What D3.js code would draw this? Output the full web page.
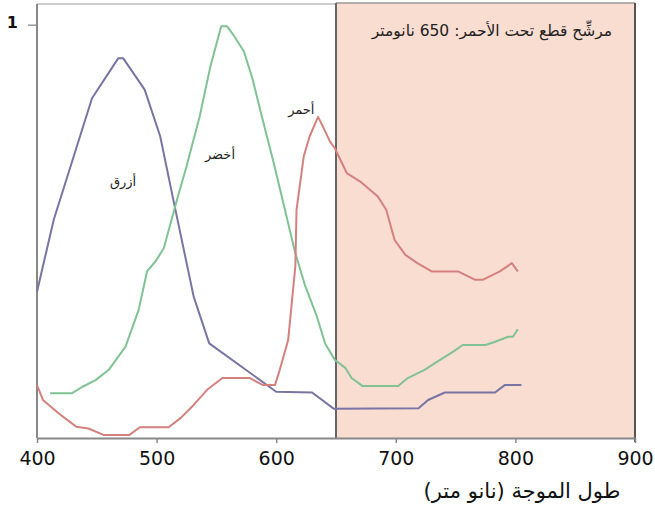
<!DOCTYPE html>
<html>
<head>
<meta charset="utf-8">
<script src="https://cdn.jsdelivr.net/npm/d3@7"></script>
<style>
  body { margin: 0; background: #fff; }
  svg { display: block; }
</style>
</head>
<body>
<svg id="chart" width="655" height="511"></svg>
<script>
// wavelengths (nm) and relative response for each channel
const blueNm  = [400, 414, 446, 468, 472, 490, 503, 514, 531, 544, 600, 630, 648, 719, 727, 741, 783, 791, 805];
const blueVal = [0.354, 0.528, 0.822, 0.919, 0.919, 0.843, 0.730, 0.576, 0.342, 0.229, 0.112, 0.110, 0.071, 0.072, 0.092, 0.110, 0.110, 0.128, 0.128];

const greenNm  = [411, 429, 438, 449, 460, 474, 485, 492, 499, 506, 517, 525, 536, 545, 554, 559, 564, 573, 580, 588, 598, 606, 616, 624, 634, 641, 649, 658, 663, 672, 702, 710, 724, 737, 748, 756, 775, 783, 794, 798, 802];
const greenVal = [0.108, 0.108, 0.124, 0.140, 0.165, 0.221, 0.310, 0.403, 0.427, 0.459, 0.576, 0.657, 0.778, 0.899, 0.996, 0.996, 0.976, 0.935, 0.871, 0.778, 0.665, 0.568, 0.447, 0.370, 0.294, 0.228, 0.189, 0.169, 0.145, 0.126, 0.126, 0.145, 0.165, 0.189, 0.209, 0.225, 0.225, 0.233, 0.245, 0.245, 0.263];

const redNm  = [400, 405, 418, 433, 443, 456, 477, 486, 510, 520, 531, 542, 555, 578, 589, 599, 603, 610, 616, 617, 623, 628, 635, 639, 645, 649, 659, 670, 685, 692, 699, 708, 718, 730, 752, 766, 773, 787, 797, 802];
const redVal = [0.128, 0.092, 0.060, 0.027, 0.023, 0.007, 0.007, 0.026, 0.026, 0.048, 0.080, 0.116, 0.145, 0.145, 0.128, 0.128, 0.165, 0.237, 0.415, 0.552, 0.681, 0.730, 0.777, 0.754, 0.717, 0.701, 0.641, 0.621, 0.584, 0.552, 0.479, 0.443, 0.423, 0.403, 0.403, 0.383, 0.383, 0.403, 0.423, 0.403];

const xTicks = [400, 500, 600, 700, 800, 900];
const yTicks = [1];
const cutoffNm = 650;

const curveLabels = [
  {text: 'أزرق', nm: 472, v: 0.61},
  {text: 'أخضر', nm: 553, v: 0.676},
  {text: 'أحمر', nm: 621, v: 0.784}
];
const filterLabel = 'مرشِّح قطع تحت الأحمر: 650 نانومتر';
const xTitle = 'طول الموجة (نانو متر)';

const svg = d3.select('#chart');
const mLeft = 37, mRight = 635, mTop = 4, mBottom = 438;

const x = d3.scaleLinear().domain([400, 900]).range([mLeft, mRight]);
const y = d3.scaleLinear().domain([0, 1.05]).range([mBottom, mTop]);

// shaded IR-cut region
svg.append('rect')
  .attr('x', x(cutoffNm)).attr('y', mTop - 1)
  .attr('width', x(900) - x(cutoffNm)).attr('height', mBottom - mTop + 1)
  .attr('fill', '#f9ddd1');

// frame
svg.append('line').attr('x1', mLeft).attr('x2', x(cutoffNm)).attr('y1', mTop).attr('y2', mTop)
  .attr('stroke', '#bbb').attr('stroke-width', 1.5);
svg.append('line').attr('x1', x(cutoffNm)).attr('x2', mRight).attr('y1', mTop - 1).attr('y2', mTop - 1)
  .attr('stroke', '#999').attr('stroke-width', 1.5);
svg.append('line').attr('x1', x(cutoffNm)).attr('x2', x(cutoffNm)).attr('y1', mTop - 1).attr('y2', mBottom)
  .attr('stroke', '#666').attr('stroke-width', 2);
svg.append('line').attr('x1', mRight).attr('x2', mRight).attr('y1', mTop - 1).attr('y2', mBottom + 4)
  .attr('stroke', '#555').attr('stroke-width', 2);

// axes
const xAxis = d3.axisBottom(x).tickValues(xTicks).tickSize(5).tickSizeOuter(0).tickPadding(9);
const gx = svg.append('g').attr('transform', `translate(0,${mBottom})`).call(xAxis);
gx.select('.domain').attr('stroke', '#888').attr('stroke-width', 2);
gx.selectAll('.tick line').attr('stroke', '#888').attr('stroke-width', 1.5);
gx.selectAll('.tick text').attr('font-family', 'DejaVu Sans, sans-serif').attr('font-size', 19).attr('fill', '#111');

const yAxis = d3.axisLeft(y).tickValues(yTicks).tickFormat(d3.format('d'))
  .tickSize(9).tickSizeOuter(0).tickPadding(10);
const gy = svg.append('g').attr('transform', `translate(${mLeft},0)`).call(yAxis);
gy.select('.domain').remove();
gy.append('line').attr('x1', 0).attr('x2', 0).attr('y1', mTop).attr('y2', mBottom)
  .attr('stroke', '#888').attr('stroke-width', 2);
gy.selectAll('.tick line').attr('stroke', '#999').attr('stroke-width', 1.5);
gy.selectAll('.tick text').attr('font-family', 'DejaVu Sans, sans-serif').attr('font-size', 16)
  .attr('font-weight', 'bold').attr('fill', '#111').attr('dy', '0.2em');

// curves
const line = d3.line().x(d => x(d[0])).y(d => y(d[1]));
const series = [
  {nm: blueNm, val: blueVal, color: '#7874a3'},
  {nm: greenNm, val: greenVal, color: '#80c293'},
  {nm: redNm, val: redVal, color: '#d4807f'}
];
series.forEach(s => {
  svg.append('path')
    .datum(d3.zip(s.nm, s.val))
    .attr('fill', 'none')
    .attr('stroke', s.color)
    .attr('stroke-width', 2)
    .attr('stroke-linejoin', 'round')
    .attr('d', line);
});

// labels
svg.selectAll('.clabel').data(curveLabels).enter().append('text')
  .attr('x', d => x(d.nm)).attr('y', d => y(d.v))
  .attr('text-anchor', 'middle')
  .attr('font-family', 'DejaVu Sans, sans-serif').attr('font-size', 13).attr('fill', '#222')
  .text(d => d.text);

svg.append('text')
  .attr('x', 492).attr('y', 36)
  .attr('text-anchor', 'middle')
  .attr('font-family', 'DejaVu Sans, sans-serif').attr('font-size', 15.5).attr('fill', '#222')
  .text(filterLabel);

svg.append('text')
  .attr('x', 522).attr('y', 498)
  .attr('text-anchor', 'middle')
  .attr('font-family', 'DejaVu Sans, sans-serif').attr('font-size', 21).attr('fill', '#111')
  .text(xTitle);
</script>
</body>
</html>
